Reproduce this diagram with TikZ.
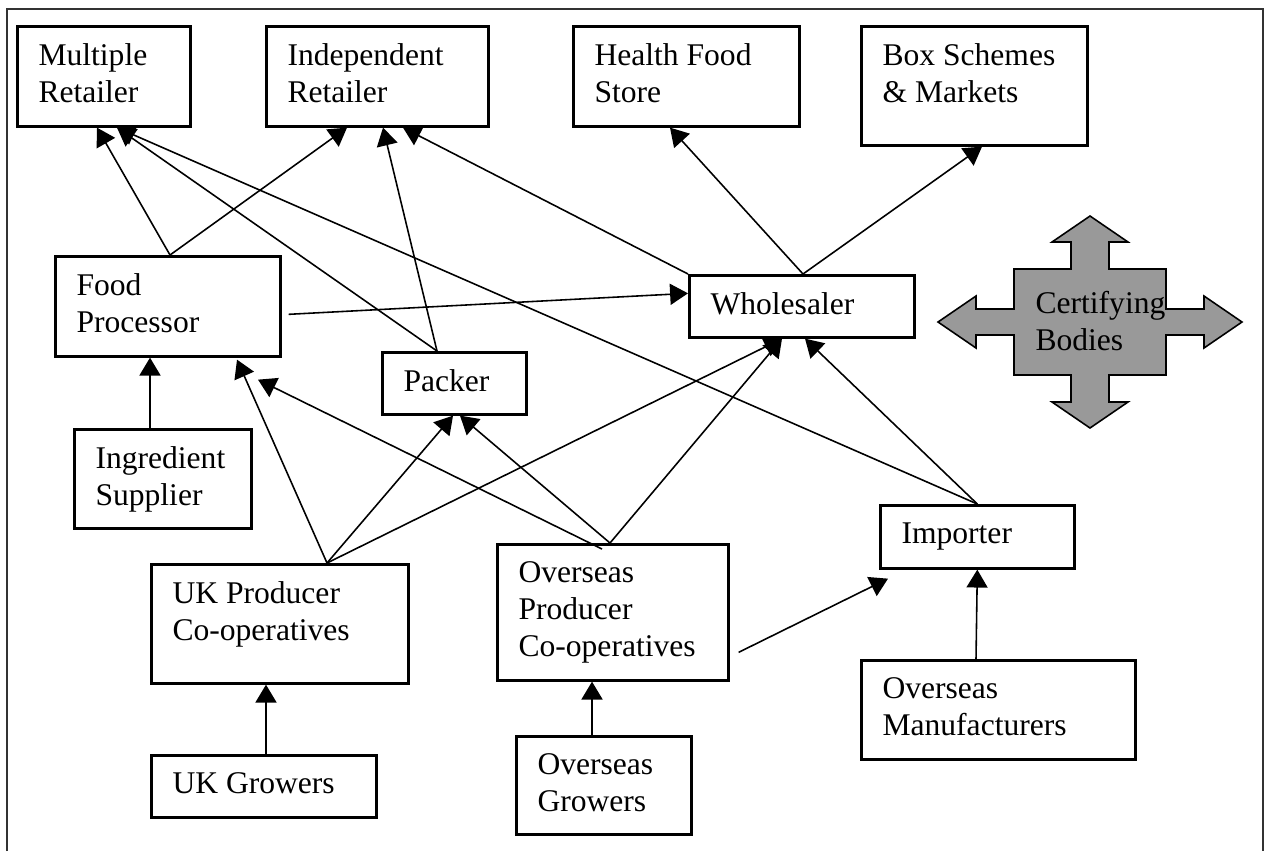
\documentclass[tikz,border=0pt]{standalone}
\usepackage{fontspec}
\setmainfont{Liberation Serif}
\usetikzlibrary{arrows.meta}
\begin{document}
\begin{tikzpicture}[x=0.38pt,y=-0.38pt,
    box/.style 2 args={draw,line width=1pt,anchor=north west,inner sep=0pt,minimum width=#1*0.38pt,minimum height=#2*0.38pt},
    txt/.style={anchor=north west,align=left,inner sep=0pt,font=\fontsize{12}{14}\selectfont},
    arr/.style={line width=0.6pt,-{Triangle[length=6.8pt,width=8pt]}}]
    \useasboundingbox (0,0) rectangle (1271,851);
    \draw[black!80,line width=0.5pt] (7,851)--(7,9)--(1263,9)--(1263,851);
    \node[box={173}{100}] (mr) at (16,25) {};
    \node[box={222}{100}] (ir) at (265,25) {};
    \node[box={226}{100}] (hf) at (572,25) {};
    \node[box={226}{119}] (bs) at (860,25) {};
    \node[box={225}{100}] (fp) at (54,255) {};
    \node[box={225}{62}] (ws) at (688,274) {};
    \node[box={144}{62}] (pk) at (381,351) {};
    \node[box={177}{99}] (is) at (73,428) {};
    \node[box={257}{119}] (ukp) at (150,563) {};
    \node[box={231}{136}] (osp) at (496,543) {};
    \node[box={194}{63}] (imp) at (879,504) {};
    \node[box={274}{99}] (om) at (860,659) {};
    \node[box={225}{62}] (ukg) at (150,754) {};
    \node[box={175}{98}] (osg) at (515,735) {};
    \node[txt] (mr-t) at ([shift={(22,18)}]mr.north west) {Multiple\\Retailer};
    \node[txt] (ir-t) at ([shift={(22,18)}]ir.north west) {Independent\\Retailer};
    \node[txt] (hf-t) at ([shift={(22,18)}]hf.north west) {Health Food\\Store};
    \node[txt] (bs-t) at ([shift={(22,18)}]bs.north west) {Box Schemes\\\& Markets};
    \node[txt] (fp-t) at ([shift={(22,18)}]fp.north west) {Food\\Processor};
    \node[txt] (ws-t) at ([shift={(22,18)}]ws.north west) {Wholesaler};
    \node[txt] (pk-t) at ([shift={(22,18)}]pk.north west) {Packer};
    \node[txt] (is-t) at ([shift={(22,18)}]is.north west) {Ingredient\\Supplier};
    \node[txt] (ukp-t) at ([shift={(22,18)}]ukp.north west) {UK Producer\\Co-operatives};
    \node[txt] (osp-t) at ([shift={(22,18)}]osp.north west) {Overseas\\Producer\\Co-operatives};
    \node[txt] (imp-t) at ([shift={(22,18)}]imp.north west) {Importer};
    \node[txt] (om-t) at ([shift={(22,18)}]om.north west) {Overseas\\Manufacturers};
    \node[txt] (ukg-t) at ([shift={(22,18)}]ukg.north west) {UK Growers};
    \node[txt] (osg-t) at ([shift={(22,18)}]osg.north west) {Overseas\\Growers};
    \draw[fill=black!40,line width=0.6pt,shift={(1090,322)}] (0,-106)--(38,-80)--(19,-80)--(19,-53)--(76,-53)--(76,-13)--(114,-13)--(114,-26)--(152,0)--(114,26)--(114,13)--(76,13)--(76,53)--(19,53)--(19,80)--(38,80)--(0,106)--(-38,80)--(-19,80)--(-19,53)--(-76,53)--(-76,13)--(-114,13)--(-114,26)--(-152,0)--(-114,-26)--(-114,-13)--(-76,-13)--(-76,-53)--(-19,-53)--(-19,-80)--(-38,-80)--cycle;
    \node[txt] (cb) at (1035,291) {Certifying\\Bodies};
    \draw[arr] ([shift={(116,0)}]fp.north west) -- ([shift={(81,0)}]mr.south west);
    \draw[arr] ([shift={(116,0)}]fp.north west) -- ([shift={(82,0)}]ir.south west);
    \draw[arr] ([shift={(56,0)}]pk.north west) -- ([shift={(101,0)}]mr.south west);
    \draw[arr] ([shift={(56,0)}]pk.north west) -- ([shift={(118,0)}]ir.south west);
    \draw[arr] (ws.north west) -- ([shift={(138,0)}]ir.south west);
    \draw[arr] ([shift={(115,0)}]ws.north west) -- ([shift={(98,0)}]hf.south west);
    \draw[arr] ([shift={(115,0)}]ws.north west) -- ([shift={(122,0)}]bs.south west);
    \draw[arr] ([shift={(7,8)}]fp.east) -- ([shift={(0,-13)}]ws.west);
    \draw[arr] ([shift={(77,0)}]is.north west) -- ([shift={(96,0)}]fp.south west);
    \draw[arr] ([shift={(177,0)}]ukp.north west) -- ([shift={(183,2)}]fp.south west);
    \draw[arr] ([shift={(106,6)}]osp.north west) -- ([shift={(204,22)}]fp.south west);
    \draw[arr] ([shift={(177,0)}]ukp.north west) -- ([shift={(72,0)}]pk.south west);
    \draw[arr] ([shift={(114,0)}]osp.north west) -- ([shift={(79,0)}]pk.south west);
    \draw[arr] ([shift={(177,0)}]ukp.north west) -- ([shift={(94,0)}]ws.south west);
    \draw[arr] ([shift={(114,0)}]osp.north west) -- ([shift={(94,0)}]ws.south west);
    \draw[arr] (imp.north) -- ([shift={(117,0)}]ws.south west);
    \draw[arr] (imp.north) -- ([shift={(101,0)}]mr.south west);
    \draw[arr] ([shift={(9,40)}]osp.east) -- ([shift={(9,9)}]imp.south west);
    \draw[arr] ([shift={(116,0)}]om.north west) -- (imp.south);
    \draw[arr] ([shift={(116,0)}]ukg.north west) -- ([shift={(116,0)}]ukp.south west);
    \draw[arr] ([shift={(77,0)}]osg.north west) -- ([shift={(96,0)}]osp.south west);
\end{tikzpicture}
\end{document}
